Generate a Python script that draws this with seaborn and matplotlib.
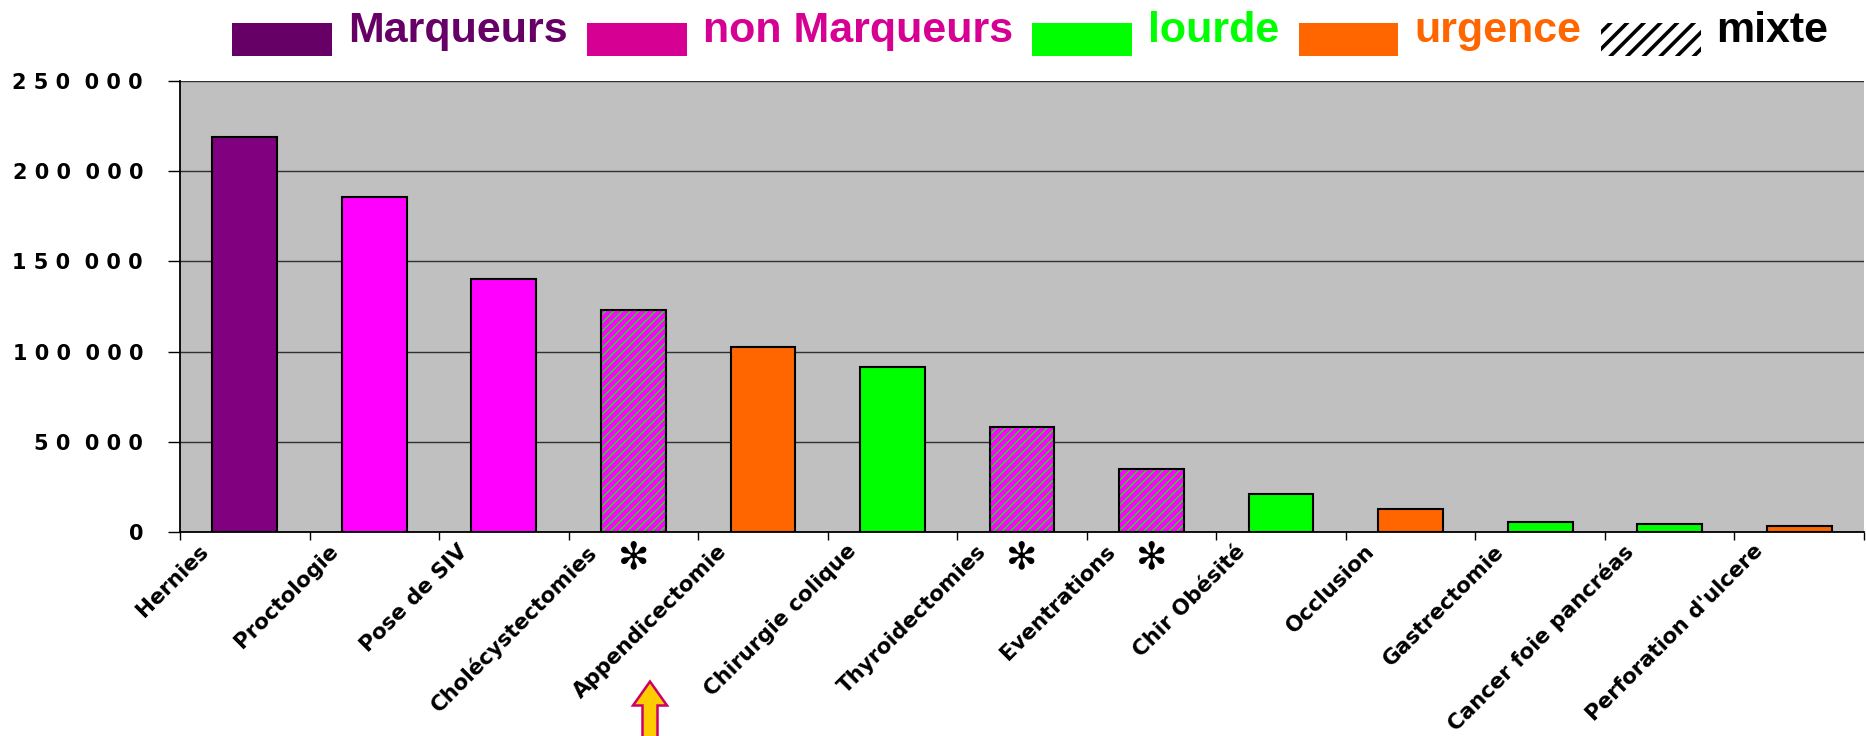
import numpy as np
import pandas as pd
import matplotlib
matplotlib.use("Agg")
import matplotlib.pyplot as plt
import seaborn as sns
from matplotlib import transforms
from matplotlib import patches as mpatches
from matplotlib.colors import to_rgba
from matplotlib.legend_handler import HandlerPatch
from matplotlib.ticker import FuncFormatter, MultipleLocator

# ---------------- data ----------------
categories = ["Hernies", "Proctologie", "Pose de SIV", "Cholécystectomies",
              "Appendicectomie", "Chirurgie colique", "Thyroidectomies",
              "Eventrations", "Chir Obésité", "Occlusion", "Gastrectomie",
              "Cancer foie pancréas", "Perforation d'ulcere"]
values = [219000, 185500, 140000, 123000, 102500, 91500, 58000,
          35000, 21000, 12500, 5300, 4600, 3300]
groups = ["Marqueurs", "non Marqueurs", "non Marqueurs", "mixte", "urgence",
          "lourde", "mixte", "mixte", "lourde", "urgence", "lourde",
          "lourde", "urgence"]
legend_labels = ["Marqueurs", "non Marqueurs", "lourde", "urgence", "mixte"]

bar_colors = {"Marqueurs": "#800080", "non Marqueurs": "#FF00FF",
              "lourde": "#00FF00", "urgence": "#FF6600", "mixte": "#FF00FF"}
legend_colors = {"Marqueurs": "#660066", "non Marqueurs": "#D60093",
                 "lourde": "#00FF00", "urgence": "#FF6600", "mixte": "#000000"}
mixte_hatch_color = "#00FF00"

W, H = 1866, 736
plt.rcParams["font.family"] = ["DejaVu Sans"]
plt.rcParams["hatch.linewidth"] = 1.0

fig = plt.figure(figsize=(W / 100, H / 100), dpi=100, facecolor="white")
ax = fig.add_axes([180 / W, (H - 532) / H, 1684 / W, 451 / H])

df = pd.DataFrame({"cat": categories, "val": values, "grp": groups})
palette = [bar_colors[g] for g in groups]
sns.barplot(data=df, x="cat", y="val", hue="cat", order=categories,
            hue_order=categories, palette=palette, legend=False, width=0.5,
            saturation=1, edgecolor="black", linewidth=1.5, ax=ax)

for cont, g in zip(ax.containers, groups):
    for bar in cont:
        if g == "mixte":
            bar.set_hatch("////")
            if hasattr(bar, "set_hatchcolor"):
                bar.set_hatchcolor(mixte_hatch_color)
            else:
                bar._hatch_color = to_rgba(mixte_hatch_color)

ax.set_xlim(-0.5, len(categories) - 0.5)
ax.set_ylim(0, 250000)
ax.yaxis.set_major_locator(MultipleLocator(50000))
ax.set_facecolor("#C0C0C0")
ax.grid(axis="y", color="#303030", linewidth=1)
ax.grid(axis="x", visible=False)
ax.set_axisbelow(True)
ax.set_xlabel("")
ax.set_ylabel("")
for s in ["top", "right"]:
    ax.spines[s].set_visible(False)
for s in ["left", "bottom"]:
    ax.spines[s].set_color("black")
    ax.spines[s].set_linewidth(1.3)


def spaced(v, pos):
    s = "{:,}".format(int(round(v)))
    return "  ".join(" ".join(grp) for grp in s.split(","))


ax.yaxis.set_major_formatter(FuncFormatter(spaced))
ax.tick_params(axis="y", which="major", left=True, length=8.6, width=1,
               color="black", pad=18, labelsize=15, direction="out")
for lbl in ax.get_yticklabels():
    lbl.set_fontweight("bold")

# x: labels at categories, tick marks between categories
ax.set_xticks(range(len(categories)))
ax.set_xticklabels(categories, rotation=45, ha="right", va="top",
                   fontsize=15.4, fontweight="bold")
ax.set_xticks(np.arange(-0.5, len(categories), 1), minor=True)
ax.tick_params(axis="x", which="major", length=0, pad=6.5)
ax.tick_params(axis="x", which="minor", bottom=True, length=6, width=1,
               color="black", direction="out")
shift = transforms.ScaledTranslation(-32 / 100, 0, fig.dpi_scale_trans)
for lbl in ax.get_xticklabels():
    lbl.set_transform(lbl.get_transform() + shift)

# asterisks under the mixte bars
blend = transforms.blended_transform_factory(ax.transData, ax.transAxes)
for i, g in enumerate(groups):
    if g == "mixte":
        ax.text(i, -0.058, "\u273B", transform=blend, ha="center", va="center",
                fontsize=27, color="black", family=["DejaVu Sans"])

# arrow at bottom
arrow = mpatches.FancyArrow(650, -10, 0, 64.5, width=15, head_width=34,
                            head_length=24, length_includes_head=True,
                            facecolor="#FFCC00", edgecolor="#CC0066",
                            linewidth=1.8,
                            transform=transforms.IdentityTransform())
fig.add_artist(arrow)


# legend
class ShiftedPatchHandler(HandlerPatch):
    def __init__(self, shift_pt):
        super().__init__()
        self.shift_pt = shift_pt

    def create_artists(self, legend, orig_handle, xdescent, ydescent, width,
                       height, fontsize, trans):
        p = mpatches.Rectangle((-xdescent, -ydescent - self.shift_pt),
                               width, height)
        self.update_prop(p, orig_handle, legend)
        p.set_transform(trans)
        return [p]


handles = []
for lab in legend_labels:
    if lab == "mixte":
        handles.append(mpatches.Patch(facecolor="white", edgecolor="black",
                                      hatch="//", linewidth=0))
    else:
        handles.append(mpatches.Patch(facecolor=legend_colors[lab],
                                      edgecolor="none", linewidth=0))

hmap = {h: ShiftedPatchHandler(8.6) for h in handles}
with plt.rc_context({"hatch.linewidth": 2.6}):
    leg = fig.legend(handles, legend_labels, loc="upper left",
                     bbox_to_anchor=(232 / W, 1 - 11 / H), ncol=5,
                     frameon=False, borderpad=0, borderaxespad=0,
                     handlelength=2.32, handleheight=0.79,
                     handletextpad=0.37, columnspacing=0.45,
                     prop={"family": ["Liberation Sans", "DejaVu Sans"],
                           "weight": "bold", "size": 31},
                     handler_map=hmap)
for txt, lab in zip(leg.get_texts(), legend_labels):
    txt.set_color(legend_colors[lab])

fig.savefig("out.png", dpi=100, facecolor="white")
